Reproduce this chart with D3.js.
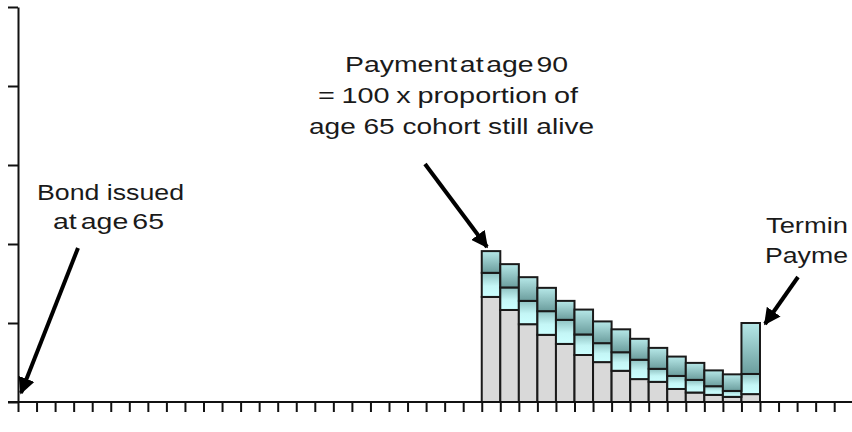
<!DOCTYPE html>
<html>
<head>
<meta charset="utf-8">
<script src="https://cdn.jsdelivr.net/npm/d3@7"></script>
<style>
  body { margin: 0; background: #fff; }
  svg { display: block; }
  text { font-family: "Liberation Sans", Arial, sans-serif; fill: #1a1a1a; }
</style>
</head>
<body>
<svg id="mainSVG" width="852" height="432"></svg>
<script>
// payment ages and the three stacked parts of each payment
const ages = [90, 91, 92, 93, 94, 95, 96, 97, 98, 99, 100, 101, 102, 103, 104]
const basePart = [26.6, 23.3, 19.7, 17.0, 14.7, 11.9, 10.1, 7.9, 5.8, 5.1, 3.3, 2.4, 1.8, 1.3, 2.0]
const lowerBand = [6.1, 5.7, 5.9, 6.0, 6.1, 5.2, 4.8, 4.7, 4.9, 3.3, 3.3, 3.2, 2.2, 1.5, 5.1]
const upperBand = [5.5, 5.9, 6.0, 5.9, 4.8, 6.3, 5.5, 5.8, 5.3, 5.3, 4.9, 4.3, 4.0, 4.2, 12.9]
const yTicks = [0, 20, 40, 60, 80, 100]
const ageRange = [65, 110]

const svg = d3.select("#mainSVG")

const x = d3.scaleLinear().domain(ageRange).range([18, 852.75])
const y = d3.scaleLinear().domain([0, 100]).range([402, 7])

const defs = svg.append("defs")
const gUp = defs.append("linearGradient").attr("id", "gradUp").attr("x1", 0).attr("y1", 0).attr("x2", 0).attr("y2", 1)
gUp.append("stop").attr("offset", "0%").attr("stop-color", "#b6e8e8")
gUp.append("stop").attr("offset", "100%").attr("stop-color", "#6b9d9d")
const gLow = defs.append("linearGradient").attr("id", "gradLow").attr("x1", 0).attr("y1", 0).attr("x2", 0).attr("y2", 1)
gLow.append("stop").attr("offset", "0%").attr("stop-color", "#8fc2c2")
gLow.append("stop").attr("offset", "55%").attr("stop-color", "#c4f6f6")
gLow.append("stop").attr("offset", "100%").attr("stop-color", "#ccffff")

defs.append("marker")
    .attr("id", "head")
    .attr("viewBox", "0 0 10 10")
    .attr("refX", 9).attr("refY", 5)
    .attr("markerWidth", 4.2).attr("markerHeight", 4.2)
    .attr("markerUnits", "strokeWidth")
    .attr("orient", "auto")
    .append("path")
    .attr("d", "M0,0 L10,5 L0,10 Z")
    .attr("fill", "#000")

const table = ages.map((a, i) => ({age: a, base: basePart[i], low: lowerBand[i], up: upperBand[i]}))
const stack = d3.stack().keys(["base", "low", "up"])(table)
const fills = {base: "#d9d9d9", low: "url(#gradLow)", up: "url(#gradUp)"}

// bars
svg.append("g").selectAll("g")
    .data(stack)
    .join("g")
    .attr("fill", d => fills[d.key])
    .selectAll("rect")
    .data(d => d)
    .join("rect")
    .attr("x", d => x(d.data.age))
    .attr("width", d => x(d.data.age + 1) - x(d.data.age))
    .attr("y", d => y(d[1]))
    .attr("height", d => y(d[0]) - y(d[1]))
    .attr("stroke", "#1a1a1a")
    .attr("stroke-width", 2)

// axes
const xAxis = d3.axisBottom(x)
    .tickValues(d3.range(ageRange[0], ageRange[1]))
    .tickSize(10).tickFormat("").tickSizeOuter(0)
const gx = svg.append("g").attr("transform", `translate(0,${y(0)})`).call(xAxis)
gx.select(".domain").remove()
gx.selectAll("line").attr("stroke", "#111").attr("stroke-width", 2)
svg.append("line")
    .attr("x1", 8).attr("x2", 852)
    .attr("y1", y(0)).attr("y2", y(0))
    .attr("stroke", "#111").attr("stroke-width", 2)

const yAxis = d3.axisLeft(y).tickValues(yTicks).tickSize(10).tickFormat("").tickSizeOuter(0)
const gy = svg.append("g").attr("transform", `translate(${x(65)},0)`).call(yAxis)
gy.select(".domain").attr("stroke", "#111").attr("stroke-width", 2)
gy.selectAll("line").attr("stroke", "#111").attr("stroke-width", 2)

// annotations: [text, x start, baseline, width, word spacing]
function label(lines) {
    const t = svg.append("text").attr("font-size", 22)
    lines.forEach(l => {
        t.append("tspan").attr("x", l[1]).attr("y", l[2]).text(l[0])
            .attr("word-spacing", (l[4] || 0) + "px")
            .attr("textLength", l[3]).attr("lengthAdjust", "spacingAndGlyphs")
    })
}
label([["Payment at age 90", 345, 72, 223, -4],
       ["= 100 x proportion of", 318, 103, 260, -1],
       ["age 65 cohort still alive", 309, 134, 285, 0]])
label([["Bond issued", 37, 200, 147, 0],
       ["at age 65", 53, 229, 111, -3]])
label([["Termin", 766, 233, 82], ["Payme", 765, 263, 83]])

function arrow(x1, y1, x2, y2) {
    svg.append("line")
        .attr("x1", x1).attr("y1", y1).attr("x2", x2).attr("y2", y2)
        .attr("stroke", "#000").attr("stroke-width", 4)
        .attr("marker-end", "url(#head)")
}
arrow(78, 248, 21, 393)
arrow(425, 164, 487, 247)
arrow(798, 277, 765, 324)
</script>
</body>
</html>
